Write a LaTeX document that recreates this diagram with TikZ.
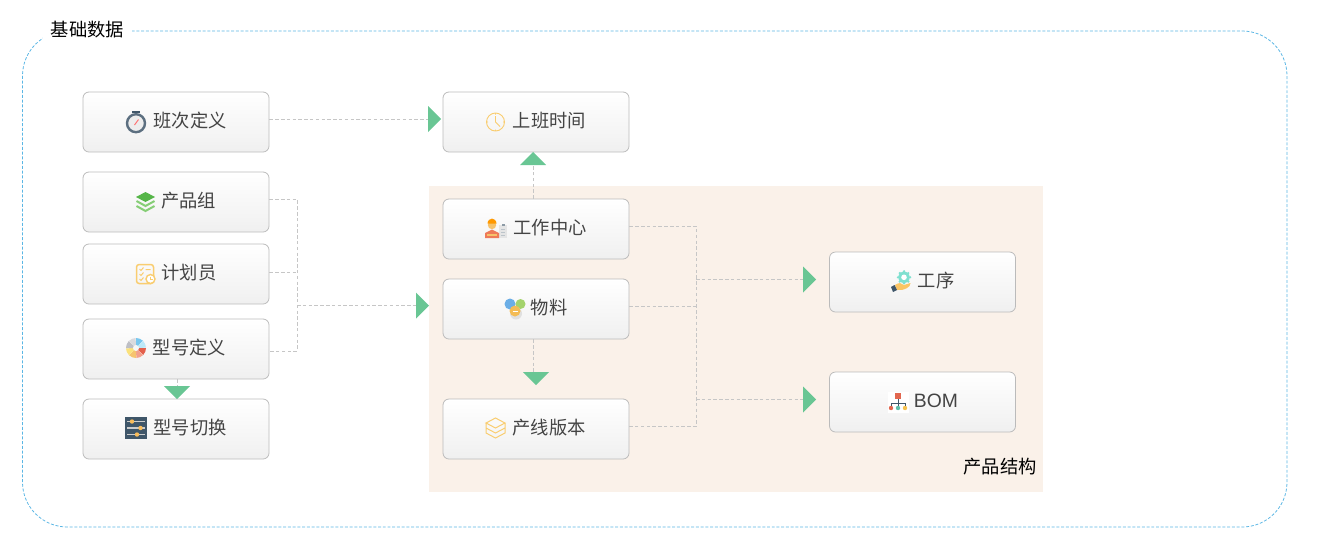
\documentclass[tikz,border=0pt]{standalone}
\usepackage{fontspec}
\setmainfont{Noto Sans CJK SC}
\newfontfamily\latinbox{Liberation Sans}
\usetikzlibrary{shapes.geometric}
\def\px{.02cm}
\newcommand{\iconkern}[1]{\kern #1\dimexpr\px\relax}
\definecolor{boxgray}{HTML}{BBBBBB}
\definecolor{boxtext}{HTML}{444444}
\definecolor{linegray}{HTML}{C6C6C6}
\definecolor{tipgreen}{HTML}{69C694}
\definecolor{framecyan}{HTML}{5AB6E4}
\definecolor{sandbg}{HTML}{FAF1E9}
\definecolor{slate}{HTML}{3F5669}
\definecolor{amber}{HTML}{F9CD70}
\definecolor{leafdark}{HTML}{55B548}
\definecolor{leaflight}{HTML}{86CE76}
\definecolor{ballblue}{HTML}{6BAEE6}
\definecolor{ballgreen}{HTML}{A4D36C}
\definecolor{ballorange}{HTML}{F4BC55}
\definecolor{gearteal}{HTML}{7FE0D0}
\definecolor{orgred}{HTML}{E2674F}
\definecolor{orgteal}{HTML}{5FBFAA}
\definecolor{orgyellow}{HTML}{F5C14F}
\definecolor{skinorange}{HTML}{F6C26B}
\definecolor{coatred}{HTML}{EE7A58}
\tikzset{
  basebox/.style={draw=boxgray, line width=.45pt, rounded corners=3.4pt, top color=white, bottom color=black!6,
    minimum width=186*\px, minimum height=60*\px, inner sep=0pt, text=boxtext, text height=7.9pt, text depth=1.9pt,
    font=\fontsize{10.4}{12}\selectfont},
  headline/.style={inner sep=0pt, text=black, font=\fontsize{10.4}{12}\selectfont},
  conn/.style={draw=linegray, line width=.5pt, dash pattern=on 2pt off 1.3pt},
  tiptri/.style={isosceles triangle, isosceles triangle apex angle=90, minimum height=13*\px, inner sep=0pt, outer sep=0pt, fill=tipgreen, anchor=apex},
  watchicon/.pic={
    \fill[slate] (-4,-11) rectangle (4,-9);
    \draw[slate!85!white, line width=2.4*\px, fill=black!7] (0,1.2) circle[radius=9];
    \draw[red!55!white, line width=1*\px] (-1.5,3) -- (2.5,-2.5);
  },
  greenstack/.pic={
    \fill[leafdark] (0,-10) -- (9.5,-5) -- (0,0) -- (-9.5,-5) -- cycle;
    \draw[leaflight, line width=2*\px] (-9,-1) -- (0,4) -- (9,-1) (-9,4) -- (0,9) -- (9,4);
  },
  planicon/.pic={
    \draw[amber, line width=1.5*\px, rounded corners=1.5pt] (-9,-9.5) rectangle (8,9.5);
    \draw[amber, line width=1*\px] (-6,-5) -- (-4.5,-3.5) -- (-2,-6.5) (0,-4.5) -- (5,-4.5)
      (-6,0) -- (-4.5,1.5) -- (-2,-1.5) (-6,5) -- (-4.5,6.5) -- (-2,3.5);
    \draw[amber, line width=1.4*\px, fill=white] (5,5) circle[radius=4.5];
    \draw[amber, line width=.8*\px] (5,2.5) -- (5,5) -- (7,5);
  },
  wheelicon/.pic={
    \foreach \a/\c in {-90/79C7EE, -45/BCE9F8, 0/E4604C, 45/F3A08C, 90/F6C46F, 135/FBE27C, 180/BEBFC5, 225/DADADE}{
      \definecolor{wheelpart}{HTML}{\c}
      \fill[wheelpart] (0,0) -- (\a:10) arc[start angle=\a, delta angle=43, radius=10] -- cycle;
    }
    \fill[black!3] (0,0) circle[radius=3];
  },
  slidericon/.pic={
    \fill[slate] (-11,-11) rectangle (11,11);
    \draw[black!20, line width=1.7*\px] (-9,-6.5) -- (9,-6.5) (-9,0) -- (9,0) (-9,6.5) -- (9,6.5);
    \fill[amber!80!orange] (-4,-6.5) circle[radius=2.2] (4.5,0) circle[radius=2.2] (1,6.5) circle[radius=2.2];
  },
  thinclock/.pic={
    \draw[amber, line width=.9*\px] (0,0) circle[radius=9]
      (0,-9) -- (0,-7.5) (0,9) -- (0,7.5) (-9,0) -- (-7.5,0) (9,0) -- (7.5,0)
      (0,-6) -- (0,0) -- (4.5,4.5);
  },
  workericon/.pic={
    \fill[black!10] (3,-3) rectangle (11,10);
    \fill[slate!60] (5.5,-4.5) rectangle (8.5,-2);
    \draw[slate!35, line width=.8*\px] (5,1) -- (9,1) (5,4) -- (9,4) (5,7) -- (9,7);
    \fill[skinorange] (-4,-3) circle[radius=4.2];
    \fill[orange!80!yellow] (-8.5,-4.5) .. controls (-8,-11) and (0,-11) .. (.5,-4.5) -- cycle;
    \fill[coatred] (-11,10) -- (-11,5) -- (-4,1.5) -- (3,5) -- (3,10) -- cycle;
    \fill[skinorange] (-9,6) rectangle (1,7.5);
  },
  sphereicon/.pic={
    \fill[black!12] (1,6.5) circle[radius=6];
    \fill[ballblue] (-5,-3) circle[radius=5.5];
    \fill[ballgreen] (5.5,-3) circle[radius=5];
    \fill[ballorange] (0,4) circle[radius=5.5];
    \draw[white, line width=1*\px] (-2.5,4) -- (2.5,4);
  },
  layericon/.pic={
    \draw[amber, line width=1*\px] (0,-10) -- (9.5,-5) -- (0,0) -- (-9.5,-5) -- cycle
      (-9.5,-5) -- (-9.5,0) -- (0,5) -- (9.5,0) -- (9.5,-5)
      (-9.5,0) -- (-9.5,5) -- (0,10) -- (9.5,5) -- (9.5,0);
  },
  handicon/.pic={
    \foreach \a in {0,45,...,315}{
      \fill[gearteal] (3,-4.7) ++(\a:6) circle[radius=1.3];
    }
    \fill[gearteal] (3,-4.7) circle[radius=5.7];
    \fill[white] (3,-4.7) circle[radius=2.8];
    \fill[amber!90!orange] (-6,3) .. controls (-2,0) and (1,1) .. (3,3) -- (9.5,1) .. controls (10,5) and (3,9) .. (-4,8) -- cycle;
    \fill[slate] (-10,5) -- (-6.5,3) -- (-4,8) -- (-8,10) -- cycle;
  },
  orgicon/.pic={
    \fill[white] (-10.5,-10.5) rectangle (10.5,10.5);
    \fill[orgred] (-3,-9) rectangle (3,-3);
    \draw[slate, line width=.9*\px] (0,-3) -- (0,4) (-7,4) -- (-7,1) -- (7,1) -- (7,4);
    \fill[orgred] (-7,6) circle[radius=2.2];
    \fill[orgteal] (0,6) circle[radius=2.2];
    \fill[orgyellow] (7,6) circle[radius=2.2];
  }
}
\begin{document}
\begin{tikzpicture}[x=\px, y=-\px]
    \useasboundingbox (0,0) rectangle (1322,538);
    % Rahmen und Flaeche:
    \draw[framecyan, line width=.45pt, dash pattern=on 1.7pt off 1pt, rounded corners=25.5pt] (22.5,31) rectangle (1287,527);
    \fill[sandbg] (429,186) rectangle (1043,491.5);
    \node[headline, fill=white, minimum width=89*\px, minimum height=19*\px] (titlebase) at (87.5,29.5) {基础数据};
    \node[headline] (titleproduct) at (1000,466.5) {产品结构};
    % linke Spalte:
    \node[basebox] (shift) at (176,122) {\iconkern{28}班次定义};
    \node[basebox] (group) at (176,202) {\iconkern{25}产品组};
    \node[basebox] (planner) at (176,274) {\iconkern{26}计划员};
    \node[basebox] (model) at (176,349) {\iconkern{27}型号定义};
    \node[basebox] (change) at (176,429) {\iconkern{28}型号切换};
    % mittlere Spalte:
    \node[basebox] (hours) at (536,122) {\iconkern{27}上班时间};
    \node[basebox] (center) at (536,229) {\iconkern{28}工作中心};
    \node[basebox] (material) at (536,309) {\iconkern{26}物料};
    \node[basebox] (version) at (536,429) {\iconkern{26}产线版本};
    % rechte Spalte:
    \node[basebox] (process) at (922.5,282) {\iconkern{27}工序};
    \node[basebox] (bom) at (922.5,402) {\iconkern{27}{\latinbox\fontsize{11}{12}\selectfont BOM}};
    % Symbole:
    \pic at (136,122) {watchicon};
    \pic at (145.5,202) {greenstack};
    \pic at (145.5,274) {planicon};
    \pic at (136,348) {wheelicon};
    \pic at (136,428) {slidericon};
    \pic at (495.5,122) {thinclock};
    \pic at (496,228) {workericon};
    \pic at (515,307) {sphereicon};
    \pic at (495.5,428) {layericon};
    \pic at (901,282) {handicon};
    \pic at (898,402) {orgicon};
    % Pfeilspitzen:
    \node[tiptri] (tiphours) at (441,119) {};
    \node[tiptri, shape border rotate=90] (tipcenter) at (533,152) {};
    \node[tiptri, shape border rotate=-90] (tipchange) at (177,399) {};
    \node[tiptri] (tipmaterial) at (429,305.5) {};
    \node[tiptri, shape border rotate=-90] (tipversion) at (536,385) {};
    \node[tiptri] (tipprocess) at (816,279.5) {};
    \node[tiptri] (tipbom) at (816,399.5) {};
    % Knotenpunkte:
    \coordinate (jgroup) at (297,199);
    \coordinate (jplanner) at (297,272);
    \coordinate (jmodel) at (297,351);
    \coordinate (jleft) at (297,305.5);
    \coordinate (jcenter) at (696,226);
    \coordinate (jmaterial) at (696,306);
    \coordinate (jversion) at (696,426.5);
    \coordinate (jprocess) at (696,279.5);
    \coordinate (jbom) at (696,399.5);
    \coordinate (jdown) at (533.5,372);
    % Verbindungen:
    \draw[conn] (shift.east |- tiphours.lower side) -- (tiphours.lower side);
    \draw[conn] (center.north -| tipcenter.lower side) -- (tipcenter.lower side);
    \draw[conn] (model.south -| tipchange.lower side) -- (tipchange.lower side);
    \draw[conn] (material.south -| jdown) -- (jdown);
    \draw[conn] (group.east |- jgroup) -- (jgroup) -- (jmodel) -- (model.east |- jmodel);
    \draw[conn] (planner.east |- jplanner) -- (jplanner);
    \draw[conn] (jleft) -- (tipmaterial.lower side);
    \draw[conn] (center.east |- jcenter) -- (jcenter) -- (jversion) -- (version.east |- jversion);
    \draw[conn] (material.east |- jmaterial) -- (jmaterial);
    \draw[conn] (jprocess) -- (tipprocess.lower side);
    \draw[conn] (jbom) -- (tipbom.lower side);
\end{tikzpicture}
\end{document}
